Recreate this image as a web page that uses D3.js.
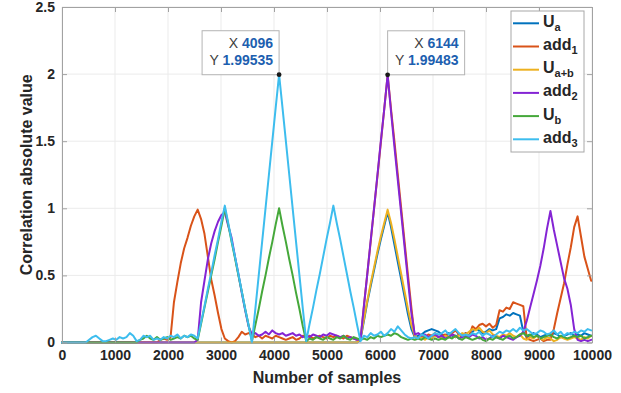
<!DOCTYPE html>
<html>
<head>
<meta charset="utf-8">
<script src="https://cdn.jsdelivr.net/npm/d3@7/dist/d3.min.js"></script>
<style>
  body { margin: 0; background: #fff; }
  svg { display: block; font-family: "Liberation Sans", Arial, Helvetica, sans-serif; }
</style>
</head>
<body>
<svg id="chart" width="621" height="393"></svg>
<script>
// Correlation magnitude sampled every 64 samples, from 0 to 9984.
const sampleStep = 64;

const ua = [
  0,0,0,0,0,0,0,0,
  0,0,0,0,0,0,0,0,
  0,0,0,0,0,0,0,0,
  0,0,0,0,0,0,0,0,
  0,0,0,0,0,0,0,0,
  0,0,0,0,0,0,0,0,
  0,0,0,0,0,0,0,0,
  0,0,0,0,0,0,0,0,
  0,0,0,0,0,0,0,0,
  0,0,0,0,0,0,0,0,
  0,0,0,0,0,0,0,0,
  0.02,0.16,0.30,0.42,0.54,0.66,0.77,0.87,
  0.97,0.86,0.73,0.60,0.47,0.34,0.21,0.10,
  0.04,0.05,0.06,0.08,0.09,0.10,0.09,0.08,
  0.06,0.05,0.07,0.05,0.04,0.06,0.05,0.07,
  0.05,0.08,0.10,0.09,0.07,0.08,0.10,0.09,
  0.10,0.18,0.19,0.21,0.20,0.22,0.21,0.20,
  0.08,0.04,0.05,0.07,0.06,0.04,0.05,0.06,
  0.05,0.07,0.06,0.04,0.05,0.06,0.07,0.05,
  0.06,0.05,0.07,0.06,0.05
];

const add1 = [
  0,0,0,0,0,0,0,0,
  0,0,0,0,0,0,0,0,
  0,0,0,0,0,0,0,0,
  0,0,0,0,0,0.02,0.03,0.02,
  0.04,0.30,0.45,0.59,0.70,0.78,0.87,0.94,
  0.99,0.92,0.81,0.64,0.47,0.35,0.22,0.10,
  0.03,0.01,0.00,0.01,0.04,0.08,0.06,0.07,
  0.06,0.04,0.05,0.03,0.05,0.04,0.03,0.05,
  0.04,0.03,0.02,0.03,0.04,0.02,0.03,0.05,
  0.04,0.05,0.03,0.04,0.05,0.04,0.03,0.05,
  0.04,0.05,0.04,0.03,0.05,0.04,0.03,0.02,
  0.02,0.27,0.51,0.75,1.00,1.24,1.49,1.74,
  1.99,1.74,1.50,1.25,1.00,0.75,0.50,0.26,
  0.04,0.03,0.05,0.04,0.06,0.05,0.07,0.04,
  0.05,0.06,0.04,0.07,0.09,0.06,0.04,0.07,
  0.05,0.12,0.10,0.13,0.14,0.12,0.14,0.11,
  0.13,0.24,0.23,0.26,0.25,0.30,0.29,0.28,
  0.27,0.03,0.02,0.01,0.02,0.03,0.01,0.02,
  0.02,0.10,0.22,0.33,0.44,0.58,0.71,0.86,
  0.94,0.79,0.64,0.55,0.46
];

const uab = [
  0,0,0,0,0,0,0,0,
  0,0,0,0,0,0,0,0,
  0,0,0,0,0,0,0,0,
  0,0,0,0,0,0,0,0,
  0,0,0,0,0,0,0,0,
  0,0,0,0,0,0,0,0,
  0,0,0,0,0,0,0,0,
  0,0,0,0,0,0,0,0,
  0,0,0,0,0,0,0,0,
  0,0,0,0,0,0,0,0,
  0,0,0,0,0,0,0,0,
  0.03,0.17,0.31,0.44,0.56,0.68,0.79,0.89,
  0.99,0.89,0.77,0.64,0.51,0.38,0.25,0.13,
  0.05,0.03,0.04,0.02,0.04,0.03,0.05,0.04,
  0.03,0.05,0.04,0.06,0.04,0.05,0.07,0.06,
  0.08,0.10,0.09,0.11,0.08,0.07,0.09,0.06,
  0.05,0.04,0.06,0.05,0.07,0.05,0.04,0.06,
  0.03,0.02,0.04,0.03,0.05,0.03,0.02,0.04,
  0.03,0.01,0.02,0.04,0.03,0.02,0.03,0.04,
  0.03,0.02,0.04,0.03,0.05
];

const add2 = [
  0,0,0,0,0,0,0,0,
  0,0,0,0,0,0,0,0,
  0,0,0,0,0,0,0,0,
  0,0,0,0,0,0,0,0,
  0,0,0,0,0,0,0,0,
  0.02,0.30,0.46,0.62,0.74,0.83,0.90,0.95,
  0.97,0.87,0.78,0.64,0.51,0.37,0.24,0.12,
  0.06,0.07,0.05,0.06,0.08,0.06,0.09,0.07,
  0.06,0.07,0.05,0.06,0.07,0.05,0.06,0.04,
  0.05,0.04,0.06,0.05,0.04,0.06,0.05,0.07,
  0.06,0.05,0.04,0.05,0.03,0.04,0.03,0.02,
  0.02,0.27,0.51,0.76,1.00,1.25,1.50,1.74,
  1.99483,1.72,1.46,1.21,0.96,0.71,0.46,0.22,
  0.06,0.07,0.05,0.06,0.04,0.05,0.06,0.04,
  0.05,0.03,0.04,0.06,0.05,0.03,0.04,0.05,
  0.04,0.06,0.05,0.03,0.04,0.02,0.03,0.05,
  0.04,0.03,0.05,0.04,0.03,0.02,0.04,0.05,
  0.08,0.16,0.26,0.36,0.46,0.57,0.70,0.85,
  0.98,0.84,0.72,0.60,0.48,0.40,0.28,0.10,
  0.02,0.01,0.02,0.01,0.02
];

const ub = [
  0,0,0,0,0,0,0,0,
  0,0,0,0,0,0,0,0,
  0,0,0,0,0,0,0,0.02,
  0.03,0.05,0.03,0.02,0.04,0.02,0.03,0.04,
  0.02,0.03,0.04,0.03,0.05,0.04,0.05,0.03,
  0.02,0.14,0.26,0.38,0.50,0.62,0.75,0.87,
  1.00,0.88,0.75,0.63,0.50,0.38,0.25,0.13,
  0.01,0.13,0.25,0.38,0.50,0.63,0.75,0.88,
  1.00,0.87,0.75,0.62,0.50,0.37,0.25,0.12,
  0.01,0.03,0.02,0.04,0.03,0.02,0.04,0.03,
  0.02,0.04,0.03,0.05,0.03,0.02,0.04,0.03,
  0.02,0.03,0.02,0.04,0.03,0.05,0.04,0.05,
  0.06,0.05,0.07,0.06,0.04,0.03,0.02,0.03,
  0.02,0.03,0.02,0.04,0.03,0.02,0.03,0.02,
  0.03,0.02,0.04,0.03,0.05,0.03,0.02,0.04,
  0.03,0.02,0.03,0.04,0.02,0.01,0.03,0.02,
  0.04,0.03,0.02,0.04,0.05,0.03,0.04,0.06,
  0.07,0.05,0.06,0.04,0.05,0.03,0.04,0.05,
  0.06,0.04,0.03,0.05,0.04,0.03,0.04,0.05,
  0.04,0.05,0.03,0.04,0.05
];

const add3 = [
  0,0,0,0,0,0,0,0,
  0.02,0.04,0.05,0.03,0.01,0.01,0.02,0.03,
  0.02,0.04,0.03,0.04,0.07,0.05,0.01,0.02,
  0.05,0.04,0.05,0.02,0.03,0.02,0.04,0.03,
  0.05,0.04,0.06,0.03,0.05,0.04,0.06,0.05,
  0.03,0.15,0.27,0.40,0.52,0.65,0.77,0.90,
  1.02,0.89,0.76,0.64,0.51,0.38,0.25,0.13,
  0.00,0.25,0.50,0.75,1.00,1.25,1.50,1.75,
  1.99535,1.75,1.50,1.25,1.00,0.75,0.50,0.25,
  0.01,0.14,0.26,0.39,0.51,0.64,0.77,0.89,
  1.02,0.89,0.77,0.64,0.51,0.38,0.26,0.13,
  0.01,0.05,0.04,0.07,0.05,0.06,0.08,0.05,
  0.07,0.10,0.08,0.12,0.09,0.06,0.04,0.03,
  0.04,0.03,0.06,0.05,0.03,0.05,0.07,0.06,
  0.07,0.09,0.06,0.08,0.10,0.07,0.05,0.06,
  0.05,0.07,0.06,0.08,0.05,0.07,0.06,0.04,
  0.06,0.08,0.07,0.09,0.08,0.10,0.08,0.11,
  0.09,0.10,0.08,0.06,0.07,0.09,0.08,0.06,
  0.07,0.09,0.06,0.08,0.05,0.07,0.06,0.08,
  0.07,0.09,0.08,0.10,0.09
];

const seriesLabels = [
  { base: "U",   sub: "a" },
  { base: "add", sub: "1" },
  { base: "U",   sub: "a+b" },
  { base: "add", sub: "2" },
  { base: "U",   sub: "b" },
  { base: "add", sub: "3" }
];
const seriesValues = [ua, add1, uab, add2, ub, add3];
const seriesColors = ["#0072BD", "#D95319", "#EDB120", "#8424D4", "#45A83A", "#3DBDEE"];

const xTicks = [0, 1000, 2000, 3000, 4000, 5000, 6000, 7000, 8000, 9000, 10000];
const yTicks = [0, 0.5, 1, 1.5, 2, 2.5];

// Data tips: which series, the sample, and the value shown
const tipSeries = [5, 3];
const tipX = [4096, 6144];
const tipY = [1.99535, 1.99483];
const tipSide = ["left", "right"];

const xLabel = "Number of samples";
const yLabel = "Correlation absolute value";

// ---- layout ----
const svg = d3.select("#chart");
const plot = { left: 62, right: 592, top: 7, bottom: 342.5 };
const x = d3.scaleLinear().domain([0, 10000]).range([plot.left, plot.right]);
const y = d3.scaleLinear().domain([0, 2.5]).range([plot.bottom, plot.top]);

const axisColor = "#a2a2a2";
const textColor = "#262626";

// grid
const grid = svg.append("g").attr("stroke", "#ebebeb").attr("stroke-width", 1);
grid.selectAll("line.gx").data(xTicks).join("line")
  .attr("x1", d => x(d)).attr("x2", d => x(d))
  .attr("y1", plot.top).attr("y2", plot.bottom);
grid.selectAll("line.gy").data(yTicks).join("line")
  .attr("x1", plot.left).attr("x2", plot.right)
  .attr("y1", d => y(d)).attr("y2", d => y(d));

// series lines
const line = d3.line()
  .x((d, i) => x(i * sampleStep))
  .y(d => y(d));

svg.append("g").selectAll("path").data(seriesValues).join("path")
  .attr("d", d => line(d))
  .attr("fill", "none")
  .attr("stroke", (d, i) => seriesColors[i])
  .attr("stroke-width", 2)
  .attr("stroke-linejoin", "round")
  .attr("stroke-linecap", "round");

// axes (ticks pointing inward, box on all four sides)
function styleAxis(g) {
  g.select(".domain").attr("stroke", axisColor);
  g.selectAll(".tick line").attr("stroke", axisColor);
  g.selectAll(".tick text")
    .attr("fill", textColor)
    .attr("font-size", 14)
    .attr("font-weight", "bold")
    .attr("font-family", "'Liberation Sans', Arial, sans-serif");
}

svg.append("g")
  .attr("transform", `translate(0,${plot.bottom})`)
  .call(d3.axisBottom(x).tickValues(xTicks).tickFormat(d3.format("d"))
    .tickSizeInner(-5).tickSizeOuter(0).tickPadding(8))
  .call(styleAxis);

svg.append("g")
  .attr("transform", `translate(0,${plot.top})`)
  .call(d3.axisTop(x).tickValues(xTicks).tickFormat("")
    .tickSizeInner(-5).tickSizeOuter(0))
  .call(styleAxis);

svg.append("g")
  .attr("transform", `translate(${plot.left},0)`)
  .call(d3.axisLeft(y).tickValues(yTicks).tickFormat(d => String(d))
    .tickSizeInner(-5).tickSizeOuter(0).tickPadding(7))
  .call(styleAxis);

svg.append("g")
  .attr("transform", `translate(${plot.right},0)`)
  .call(d3.axisRight(y).tickValues(yTicks).tickFormat("")
    .tickSizeInner(-5).tickSizeOuter(0))
  .call(styleAxis);

// axis titles
svg.append("text")
  .attr("x", (plot.left + plot.right) / 2).attr("y", 383)
  .attr("text-anchor", "middle")
  .attr("font-size", 16).attr("font-weight", "bold").attr("fill", textColor)
  .text(xLabel);

svg.append("text")
  .attr("transform", `translate(31.5,${(plot.top + plot.bottom) / 2}) rotate(-90)`)
  .attr("text-anchor", "middle")
  .attr("font-size", 16).attr("font-weight", "bold").attr("fill", textColor)
  .text(yLabel);

// data tips
const tipW = 77, tipH = 44;
tipSeries.forEach((s, k) => {
  const px = x(tipX[k]), py = y(tipY[k]);
  const left = tipSide[k] === "left" ? px - tipW : px;
  const top = py - tipH;
  const g = svg.append("g");
  g.append("rect")
    .attr("x", left).attr("y", top).attr("width", tipW).attr("height", tipH)
    .attr("fill", "#fff").attr("fill-opacity", 0.92)
    .attr("stroke", "#b4b4b4").attr("stroke-width", 1);
  const rows = [["X", String(tipX[k])], ["Y", String(tipY[k])]];
  rows.forEach((r, j) => {
    const t = g.append("text")
      .attr("x", left + tipW - 6).attr("y", top + 17 + j * 17)
      .attr("text-anchor", "end").attr("font-size", 14);
    t.append("tspan").attr("fill", "#404040").text(r[0] + "  ");
    t.append("tspan").attr("fill", "#1d5fb0").attr("font-weight", "bold").text(r[1]);
  });
  g.append("circle")
    .attr("cx", px).attr("cy", py).attr("r", 2.4)
    .attr("fill", "#1a1a1a");
});

// legend
const lg = svg.append("g");
lg.append("rect")
  .attr("x", 511).attr("y", 11).attr("width", 73).attr("height", 141)
  .attr("fill", "#fff").attr("stroke", "#a8a8a8").attr("stroke-width", 1);
seriesLabels.forEach((lab, i) => {
  const cy = 23.3 + i * 23.2;
  lg.append("line")
    .attr("x1", 513).attr("x2", 539).attr("y1", cy).attr("y2", cy)
    .attr("stroke", seriesColors[i]).attr("stroke-width", 2);
  const t = lg.append("text")
    .attr("x", 543).attr("y", cy + 3.4)
    .attr("font-size", 16).attr("font-weight", "bold").attr("fill", textColor);
  t.append("tspan").text(lab.base);
  t.append("tspan").attr("font-size", 11).attr("dy", 4).text(lab.sub);
});
</script>
</body>
</html>
